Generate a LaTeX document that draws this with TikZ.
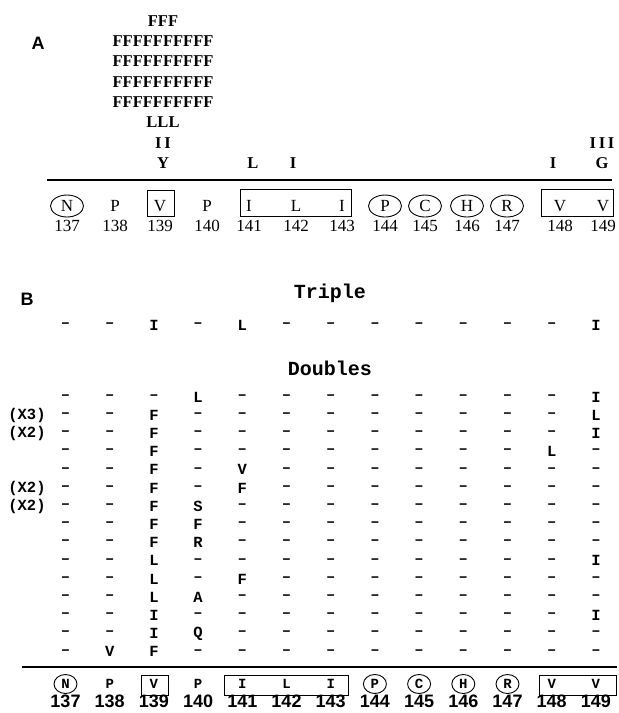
\documentclass[tikz,border=0pt]{standalone}
\usepackage{fontspec}
\setmainfont{Liberation Serif}
\newfontfamily\monofont{Liberation Mono}
\newfontfamily\sansfont{Liberation Sans}
\usetikzlibrary{shapes.geometric}
\newcommand\rescell[1]{\edef\rescellc{#1}\if-\rescellc\textendash\else\rescellc\fi}
\tikzset{
  panel/.style={font=\sansfont\bfseries\fontsize{18}{18}\selectfont, inner sep=0pt},
  mut/.style={font=\bfseries\fontsize{16.5}{16.5}\selectfont, inner sep=0pt},
  resA/.style={font=\fontsize{17}{17}\selectfont, inner sep=0pt},
  ringA/.style={ellipse, draw, line width=0.9pt, minimum width=33pt, minimum height=22pt, inner sep=0pt},
  headB/.style={font=\monofont\bfseries\fontsize{20}{20}\selectfont, inner sep=0pt},
  rowB/.style={font=\monofont\bfseries\fontsize{15.5}{15.5}\selectfont, inner sep=0pt},
  resB/.style={font=\monofont\bfseries\fontsize{14}{14}\selectfont, inner sep=0pt},
  numB/.style={font=\sansfont\bfseries\fontsize{18}{18}\selectfont, inner sep=0pt},
  ringB/.style={ellipse, draw, line width=0.9pt, minimum width=23pt, minimum height=19pt, inner sep=0pt},
  boxline/.style={line width=0.9pt}
}
\begin{document}
\begin{tikzpicture}[x=1pt,y=-1pt]
\useasboundingbox (0,0) rectangle (619,713);

% panel A
\node[panel] (labA) at (38,43) {A};
\foreach \t [count=\k] in {Y,I\,I,LLL,FFFFFFFFFF,FFFFFFFFFF,FFFFFFFFFF,FFFFFFFFFF,FFF}
  \node[mut] (mut\k) at (163,{163-20.3*(\k-1)}) {\t};
\node[mut] (mutL) at (253,163) {L};
\node[mut] (mutI) at (293,163) {I};
\node[mut] (mutIr) at (553,163) {I};
\node[mut] (mutG) at (602,163) {G};
\node[mut] (mutIII) at (602,142.7) {I\,I\,I};
\draw[line width=1.5pt] (47,180) -- (612,180);

\foreach \x/\a/\n in {67/N/137,115/P/138,160/V/139,207/P/140,249/I/141,296/L/142,342/I/143,385/P/144,425/C/145,467/H/146,507/R/147,560/V/148,603/V/149}{
  \node[resA] (a\n) at (\x,206) {\a};
  \node[resA] (na\n) at (\x,226) {\n};
}
\foreach \n in {137,144,145,146,147}
  \node[ringA] (ra\n) at (a\n) {};
\draw[boxline] (147,190) rectangle (174,216);
\draw[boxline] (240,189) rectangle (351,216);
\draw[boxline] (541,189) rectangle (613,216);

% panel B
\node[panel] (labB) at (27,299) {B};
\node[headB] (triple) at (330,293) {Triple};
\foreach \c [count=\k] in {-,-,I,-,L,-,-,-,-,-,-,-,I}
  \node[rowB] (t\k) at ({65.5+44.2*(\k-1)},325) {\rescell\c};

\node[headB] (doubles) at (330,368) {Doubles};
\foreach \row [count=\r] in {
  {-,-,-,L,-,-,-,-,-,-,-,-,I},
  {-,-,F,-,-,-,-,-,-,-,-,-,L},
  {-,-,F,-,-,-,-,-,-,-,-,-,I},
  {-,-,F,-,-,-,-,-,-,-,-,L,-},
  {-,-,F,-,V,-,-,-,-,-,-,-,-},
  {-,-,F,-,F,-,-,-,-,-,-,-,-},
  {-,-,F,S,-,-,-,-,-,-,-,-,-},
  {-,-,F,F,-,-,-,-,-,-,-,-,-},
  {-,-,F,R,-,-,-,-,-,-,-,-,-},
  {-,-,L,-,-,-,-,-,-,-,-,-,I},
  {-,-,L,-,F,-,-,-,-,-,-,-,-},
  {-,-,L,A,-,-,-,-,-,-,-,-,-},
  {-,-,I,-,-,-,-,-,-,-,-,-,I},
  {-,-,I,Q,-,-,-,-,-,-,-,-,-},
  {-,V,F,-,-,-,-,-,-,-,-,-,-}}{
  \foreach \c [count=\k] in \row
    \node[rowB] (d\r-\k) at ({65.5+44.2*(\k-1)},{397+18.2*(\r-1)}) {\rescell\c};
}
\foreach \r/\m in {2/3,3/2,6/2,7/2}
  \node[rowB] (x\r) at (27,{397+18.2*(\r-1)}) {(X\m)};

\draw[line width=1.8pt] (22,667) -- (617,667);
\foreach \a/\n [count=\k] in {N/137,P/138,V/139,P/140,I/141,L/142,I/143,P/144,C/145,H/146,R/147,V/148,V/149}{
  \node[resB] (b\n) at ({65.5+44.2*(\k-1)},684) {\a};
  \node[numB] (nb\n) at ({65.5+44.2*(\k-1)},701) {\n};
}
\foreach \n in {137,144,145,146,147}
  \node[ringB] (rb\n) at (b\n) {};
\draw[boxline] (141,675) rectangle (168,695);
\draw[boxline] (224,675) rectangle (348,695);
\draw[boxline] (539,675) rectangle (616,695);
\end{tikzpicture}
\end{document}
